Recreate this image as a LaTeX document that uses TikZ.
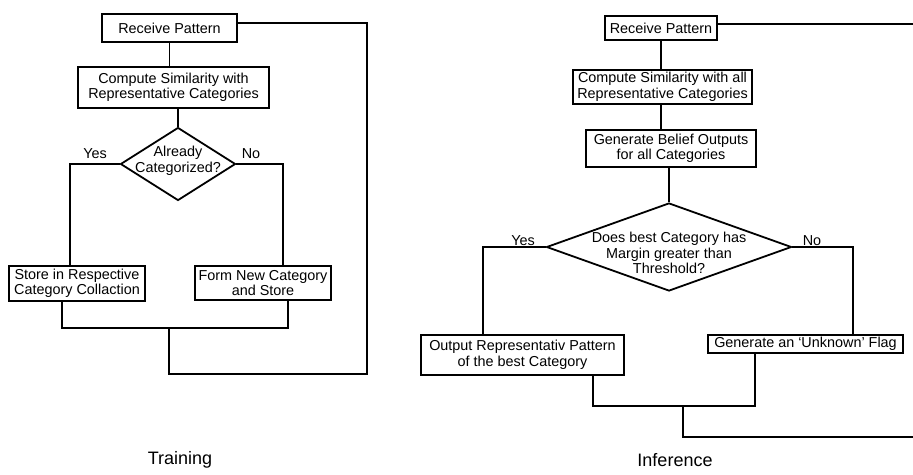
\documentclass[tikz,border=0pt]{standalone}
\usepackage{fontspec}
\setmainfont{Liberation Sans}
\usetikzlibrary{shapes.geometric}
\newcommand\flowtextfont{\fontsize{14.4}{15.5}\selectfont}
\newcommand\paneltitlefont{\fontsize{18}{20}\selectfont}
\begin{document}
\begin{tikzpicture}[x=1pt,y=-1pt,
  line width=1.8pt,
  box/.style={draw, line width=1.8pt, inner sep=0pt, align=center, font=\flowtextfont},
  decision/.style={draw, diamond, line width=1.8pt, inner sep=0pt},
  dtext/.style={align=center, font=\flowtextfont, inner sep=0pt},
  lbl/.style={font=\flowtextfont, inner sep=0pt},
  caption/.style={font=\paneltitlefont, inner sep=0pt}]
\useasboundingbox (0,0) rectangle (913,474);

% ---------------- Training ----------------
\node[box, minimum width=135, minimum height=28] (rp1) at (169.5,28) {Receive Pattern};
\node[box, minimum width=191, minimum height=41] (cs1) at (173.5,87.5) {Compute Similarity with\\Representative Categories};
\node[decision, minimum width=115, minimum height=73] (d1) at (178,164) {};
\node[dtext] (d1t) at (178,161) {Already\\Categorized?};
\node[lbl] (y1) at (95,154) {Yes};
\node[lbl] (n1) at (251,154) {No};
\node[box, minimum width=136, minimum height=35] (st) at (77,283.5) {Store in Respective\\Category Collaction};
\node[box, minimum width=136, minimum height=34] (fn) at (263,283) {Form New Category\\and Store};
\node[caption] (t1) at (180,460) {Training};

\coordinate (sb) at ([xshift=-15pt]st.south);
\coordinate (fb) at ([xshift=25pt]fn.south);
\coordinate (j1) at (169,328);
\coordinate (r1) at (367,374);

\draw (rp1.south) -- (rp1.south |- cs1.north);
\draw (d1.north |- cs1.south) -- (d1.north);
\draw (d1.west) -| ([xshift=-7pt]st.north);
\draw (d1.east) -| ([xshift=20pt]fn.north);
\draw (sb) |- (j1) -| (fb);
\draw (j1) |- (r1) |- ([yshift=5pt]rp1.east);

% ---------------- Inference ----------------
\node[box, minimum width=112, minimum height=24] (rp2) at (661,28) {Receive Pattern};
\node[box, minimum width=179, minimum height=34] (cs2) at (662.5,87) {Compute Similarity with all\\Representative Categories};
\node[box, minimum width=170, minimum height=37] (bo) at (671,148.5) {Generate Belief Outputs\\for all Categories};
\node[decision, minimum width=245, minimum height=88] (d2) at (669,247) {};
\node[dtext] (d2t) at (669,253) {Does best Category has\\Margin greater than\\Threshold?};
\node[lbl] (y2) at (523,241) {Yes};
\node[lbl] (n2) at (812,241) {No};
\node[box, minimum width=203, minimum height=40] (out) at (522.5,355) {Output Representativ Pattern\\of the best Category};
\node[box, minimum width=195, minimum height=18] (un) at (805.5,344) {Generate an `Unknown' Flag};
\node[caption] (t2) at (675,460) {Inference};

\coordinate (ob) at ([xshift=70.5pt]out.south);
\coordinate (ub) at ([xshift=-50.5pt]un.south);
\coordinate (j2) at (683,406);
\coordinate (e1) at (913,24);
\coordinate (e2) at (913,437);

\draw ([yshift=4pt]rp2.east) -- (e1);
\draw (rp2.south) -- (rp2.south |- cs2.north);
\draw (rp2.south |- cs2.south) -- (rp2.south |- bo.north);
\draw (d2.north |- bo.south) -- (d2.north);
\draw (d2.west) -| ([xshift=-39.5pt]out.north);
\draw (d2.east) -| ([xshift=47.5pt]un.north);
\draw (ob) |- (j2) -| (ub);
\draw (j2) |- (e2);
\end{tikzpicture}
\end{document}
